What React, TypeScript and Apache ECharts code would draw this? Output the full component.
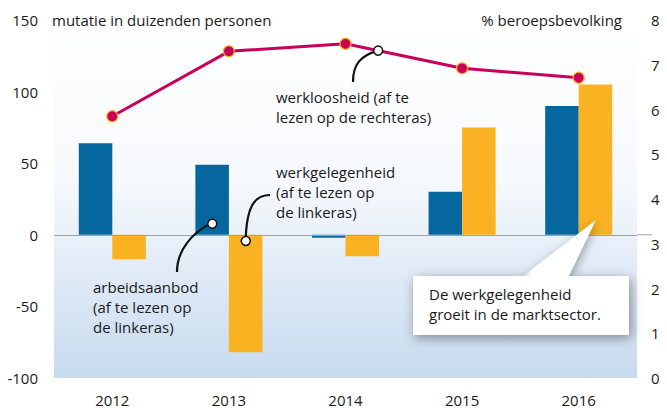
import React, { useEffect, useRef } from "react";
import * as echarts from "echarts";

const years = ["2012", "2013", "2014", "2015", "2016"];
const arbeidsaanbod = [64, 49, -2, 30, 90];
const werkgelegenheid = [-17, -82, -15, 75, 105];
const werkloosheid = [5.85, 7.3, 7.47, 6.92, 6.71];

const FONT = "Open Sans";
const TXT = "#1a1a1a";
const FS = 15;

export default function App() {
  const ref = useRef<HTMLDivElement>(null);
  useEffect(() => {
    document.body.style.margin = "0";
    const chart = echarts.init(ref.current!, null, { renderer: "svg" });
    const option: any = {
      animation: false,
      textStyle: { fontFamily: FONT },
      grid: {
        left: 54,
        right: 30,
        top: 20,
        bottom: 30,
        show: true,
        borderWidth: 0,
        backgroundColor: new echarts.graphic.LinearGradient(0, 0, 0, 1, [
          { offset: 0, color: "#ffffff" },
          { offset: 0.45, color: "#f6f9fd" },
          { offset: 1, color: "#c7daee" },
        ]),
      },
      xAxis: {
        type: "category",
        data: years,
        axisLine: { show: false },
        axisTick: { show: false },
        axisLabel: { color: TXT, fontSize: FS, margin: 14, fontFamily: FONT },
      },
      yAxis: [
        {
          type: "value",
          min: -100,
          max: 150,
          interval: 50,
          splitLine: { show: false },
          axisLine: { show: false },
          axisTick: { show: false },
          axisLabel: { color: TXT, fontSize: FS, margin: 16, fontFamily: FONT },
        },
        {
          type: "value",
          min: 0,
          max: 8,
          interval: 1,
          position: "right",
          splitLine: { show: false },
          axisLine: { show: false },
          axisTick: { show: false },
          axisLabel: { color: TXT, fontSize: FS, margin: 14, fontFamily: FONT },
        },
      ],
      series: [
        {
          name: "arbeidsaanbod",
          type: "bar",
          data: arbeidsaanbod,
          itemStyle: { color: "#05679e" },
          barGap: "0%",
          barCategoryGap: "42.5%",
          markLine: {
            silent: true,
            symbol: "none",
            label: { show: false },
            lineStyle: { color: "#a3a3a3", width: 1, type: "solid" },
            data: [{ yAxis: 0 }],
          },
        },
        {
          name: "werkgelegenheid",
          type: "bar",
          data: werkgelegenheid,
          itemStyle: { color: "#f9b221" },
          barGap: "0%",
          barCategoryGap: "42.5%",
        },
        {
          name: "werkloosheid",
          type: "line",
          yAxisIndex: 1,
          data: werkloosheid,
          symbol: "circle",
          symbolSize: 11,
          lineStyle: { color: "#c8005b", width: 3 },
          itemStyle: { color: "#c8005b", borderColor: "#f9b221", borderWidth: 1.2 },
          z: 5,
        },
      ],
    };
    chart.setOption(option);

    const px = (i: number, v: number, axis: number) =>
      chart.convertToPixel({ xAxisIndex: 0, yAxisIndex: axis }, [i, v]) as number[];
    const band = px(1, 0, 0)[0] - px(0, 0, 0)[0];
    const barW = (band * (1 - 0.425)) / 2;
    const zeroY = px(0, 0, 0)[1];
    const plotRight = px(4, 0, 0)[0] + band / 2;

    const a = px(2, werkloosheid[2], 1);
    const b = px(3, werkloosheid[3], 1);
    const t = 0.28;
    const wl = [a[0] + (b[0] - a[0]) * t, a[1] + (b[1] - a[1]) * t];
    const c13 = px(1, 8.5, 0);
    const ab = [c13[0] - barW / 2, c13[1]];
    const c13o = px(1, -3.5, 0);
    const wg = [c13o[0] + barW / 2, c13o[1]];
    const c16 = px(4, 10, 0);
    const tip = [c16[0] + barW / 2, c16[1]];

    const txt = (x: number, y: number, text: string, align = "left", extra: any = {}) => ({
      type: "text",
      x,
      y,
      z: 100,
      style: {
        text,
        fill: TXT,
        font: `${FS}px "${FONT}"`,
        align,
        verticalAlign: "middle",
        lineHeight: 20,
        ...extra,
      },
    });
    const circ = (p: number[]) => ({
      type: "circle",
      z: 100,
      shape: { cx: p[0], cy: p[1], r: 4.5 },
      style: { fill: "#ffffff", stroke: "#111111", lineWidth: 1.5 },
    });
    const curve = (shape: any) => ({
      type: "bezierCurve",
      z: 99,
      shape,
      style: { stroke: "#111111", lineWidth: 2.2, fill: null },
    });

    const boxX = 413, boxY = 276, boxW = 216, boxH = 59;
    const pointer = [
      [522, boxY + 1],
      [tip[0], tip[1]],
      [568, boxY + 1],
    ];

    chart.setOption({
      graphic: [
        {
          type: "line",
          z: 10,
          shape: { x1: plotRight, y1: zeroY, x2: plotRight + 15, y2: zeroY },
          style: { stroke: "#a3a3a3", lineWidth: 1 },
        },
        txt(52, 20, "mutatie in duizenden personen"),
        txt(622, 20, "% beroepsbevolking", "right"),
        curve({
          x1: wl[0], y1: wl[1],
          cpx1: wl[0] - 18, cpy1: wl[1] + 5,
          cpx2: 353, cpy2: wl[1] + 14,
          x2: 353, y2: 82,
        }),
        circ(wl),
        txt(276, 87, "werkloosheid (af te\nlezen op de rechteras)", "left", { verticalAlign: "top" }),
        curve({
          x1: wg[0], y1: wg[1],
          cpx1: wg[0] + 1, cpy1: 208,
          cpx2: wg[0] + 8, cpy2: 195,
          x2: 270, y2: 195,
        }),
        circ(wg),
        txt(276, 162, "werkgelegenheid\n(af te lezen op\nde linkeras)", "left", { verticalAlign: "top" }),
        curve({
          x1: ab[0], y1: ab[1],
          cpx1: ab[0] - 20, cpy1: ab[1] + 10,
          cpx2: 177, cpy2: 250,
          x2: 177, y2: 272,
        }),
        circ(ab),
        txt(93, 277, "arbeidsaanbod\n(af te lezen op\nde linkeras)", "left", { verticalAlign: "top" }),
        {
          type: "polygon",
          z: 97,
          shape: { points: pointer },
          style: {
            fill: "#ffffff",
            shadowBlur: 10,
            shadowColor: "rgba(0,0,0,0.35)",
            shadowOffsetX: 2,
            shadowOffsetY: 2,
          },
        },
        {
          type: "rect",
          z: 98,
          shape: { x: boxX, y: boxY, width: boxW, height: boxH },
          style: {
            fill: "#ffffff",
            shadowBlur: 12,
            shadowColor: "rgba(0,0,0,0.4)",
            shadowOffsetX: 2,
            shadowOffsetY: 3,
          },
        },
        {
          type: "polygon",
          z: 99,
          shape: { points: [[523, boxY + 4], [tip[0], tip[1]], [567, boxY + 4]] },
          style: { fill: "#ffffff" },
        },
        txt(429, 284, "De werkgelegenheid\ngroeit in de marktsector.", "left", { verticalAlign: "top" }),
      ],
    });

    return () => chart.dispose();
  }, []);
  return <div ref={ref} style={{ width: 667, height: 408 }} />;
}
